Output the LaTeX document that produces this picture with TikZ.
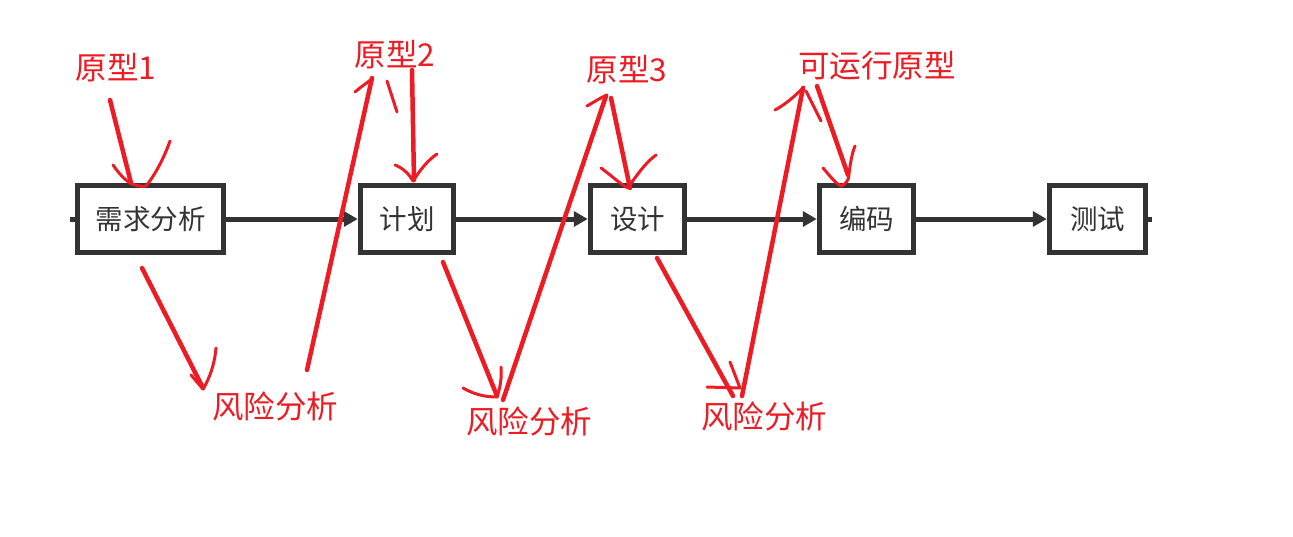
\documentclass[tikz,border=0pt]{standalone}
\usepackage{fontspec}
\setmainfont{Noto Sans CJK SC}
\usetikzlibrary{arrows.meta}
\definecolor{pred}{HTML}{ED1C24}
\definecolor{boxgray}{HTML}{333333}
\begin{document}
\begin{tikzpicture}[x=1pt,y=-1pt,
  stage/.style={draw=boxgray,line width=5.5pt,fill=white,minimum width=146pt,minimum height=67pt,inner sep=0pt,text=boxgray,font=\fontsize{27.5}{27.5}\selectfont},
  flow/.style={draw=boxgray,line width=5pt,-{Triangle[length=14pt,width=15pt]}},
  lbl/.style={text=pred,font=\fontsize{31.5}{31.5}\selectfont,inner sep=0pt},
  ink/.style={draw=pred,line width=4.5pt,line cap=round,line join=round},
  tip/.style={draw=pred,line width=3pt,line cap=round,line join=round}]
\useasboundingbox (0,0) rectangle (1293,536);
% stages
\node[stage] (s1) at (150.5,219) {需求分析};
\node[stage,minimum width=93pt] (s2) at (407,219) {计划};
\node[stage,minimum width=94pt] (s3) at (637.5,219) {设计};
\node[stage,minimum width=94pt] (s4) at (866.5,219) {编码};
\node[stage,minimum width=96pt] (s5) at (1097.5,219) {测试};
\coordinate (inL) at (70,219);
\coordinate (outR) at (1152,219);
\draw[draw=boxgray,line width=5pt] (inL) -- (s1.west);
\draw[draw=boxgray,line width=5pt] (s5.east) -- (outR);
\draw[flow] (s1) -- (s2);
\draw[flow] (s2) -- (s3);
\draw[flow] (s3) -- (s4);
\draw[flow] (s4) -- (s5);
% labels
\node[lbl] (p1) at (116,68) {原型1};
\node[lbl] (p2) at (395,55) {原型2};
\node[lbl] (p3) at (627,70) {原型3};
\node[lbl] (p4) at (877,66) {可运行原型};
\node[lbl] (r1) at (275,406) {风险分析};
\node[lbl] (r2) at (529,421) {风险分析};
\node[lbl] (r3) at (764,416) {风险分析};
% hand-drawn strokes
% 1: prototype1 -> requirements
\draw[ink] (110,100) -- (131,183);
\draw[tip] (113,165) .. controls (120,175) and (126,181) .. (132,184) .. controls (138,186) and (143,187) .. (146,186) .. controls (155,175) and (164,158) .. (170,141);
% 2: requirements -> risk1
\draw[ink] (142,268) -- (203,388);
\draw[tip] (191,375) -- (203,389) .. controls (210,378) and (215,362) .. (216,348);
% 3: risk1 -> prototype2
\draw[ink] (307,370) -- (372,78);
\draw[tip] (355,92) .. controls (362,86) and (368,82) .. (373,78);
\draw[tip] (387,81) -- (397,112);
% 4: prototype2 -> plan
\draw[ink] (412,70) -- (414,180);
\draw[tip] (395,165) .. controls (403,168) and (409,174) .. (413,181) .. controls (420,170) and (428,160) .. (437,154);
% 5: plan -> risk2
\draw[ink] (443,262) -- (497,396);
\draw[tip] (463,388) .. controls (472,393) and (482,397) .. (497,397) .. controls (500,388) and (502,378) .. (501,367);
% 6: risk2 -> prototype3
\draw[ink] (503,400) -- (606,96);
\draw[tip] (587,106) .. controls (594,102) and (600,98) .. (607,95);
% 7: prototype3 -> design
\draw[ink] (611,98) -- (630,188);
\draw[tip] (601,168) .. controls (612,176) and (620,184) .. (628,188) .. controls (636,176) and (646,162) .. (656,155);
% 8: design -> risk3
\draw[ink] (657,258) -- (733,396);
\draw[tip] (707,387) -- (740,388);
\draw[tip] (730,362) -- (740,388);
% 9: risk3 -> runnable prototype
\draw[ink] (742,396) -- (803,88);
\draw[tip] (775,110) .. controls (786,104) and (795,96) .. (804,87);
\draw[tip] (806,91) -- (821,121);
% 10: runnable prototype -> coding
\draw[ink] (817,86) -- (848,175);
\draw[tip] (823,168) .. controls (830,176) and (836,184) .. (841,186) .. controls (846,184) and (849,180) .. (849,174) .. controls (850,165) and (852,153) .. (855,146);
\end{tikzpicture}
\end{document}
